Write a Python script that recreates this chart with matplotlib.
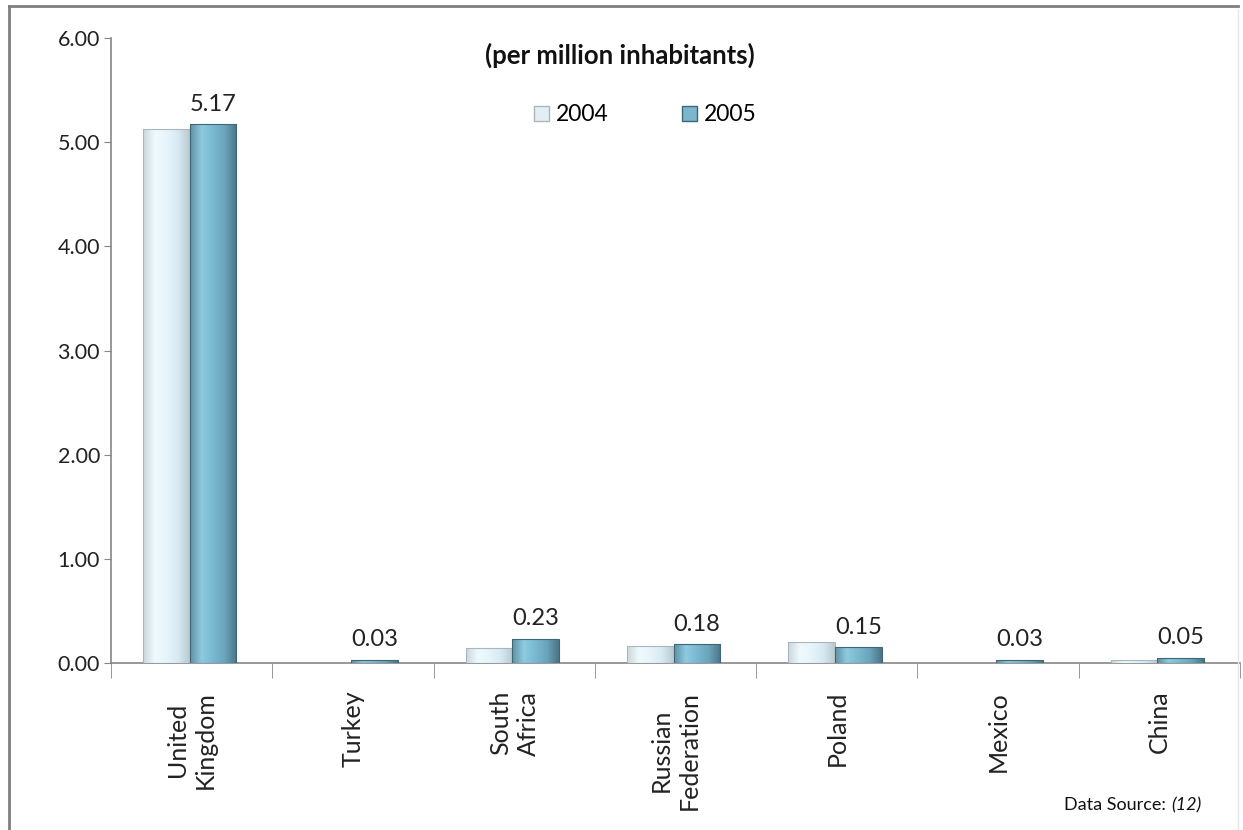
import numpy as np
import matplotlib
matplotlib.use("Agg")
import matplotlib.pyplot as plt
from matplotlib.patches import Rectangle, Patch
from matplotlib.colors import LinearSegmentedColormap
from matplotlib.lines import Line2D

plt.rcParams['font.family'] = ['Lato', 'DejaVu Sans']

countries = ["United\nKingdom", "Turkey", "South\nAfrica", "Russian\nFederation",
             "Poland", "Mexico", "China"]
years = ["2004", "2005"]
values_2004 = [5.13, 0.0, 0.14, 0.16, 0.20, 0.0, 0.03]
values_2005 = [5.17, 0.03, 0.23, 0.18, 0.15, 0.03, 0.05]

fig = plt.figure(figsize=(12.43, 8.30), dpi=100)
ax = fig.add_axes([0.0893, 0.2012, 0.9083, 0.7530])

x = np.arange(len(countries))
bw = 0.29

cmap_04 = LinearSegmentedColormap.from_list(
    "c04", ["#c9d6dc", "#eef9fd", "#e6f5fb", "#d6e9f1", "#b9c9d0"])
cmap_05 = LinearSegmentedColormap.from_list(
    "c05", ["#5f8fa3", "#8ccbe0", "#7ab8cf", "#6aa3ba", "#4b7485"])

bars04 = ax.bar(x - bw / 2 - 0.012, values_2004, bw, color="#e4f4fa", edgecolor="none", zorder=2)
bars05 = ax.bar(x + bw / 2 - 0.012, values_2005, bw, color="#7ab6cc", edgecolor="none", zorder=2)

grad = np.linspace(0, 1, 256).reshape(1, -1)
for bars, cmap, edge in ((bars04, cmap_04, "#a9b7bd"), (bars05, cmap_05, "#3f6675")):
    for r in bars:
        h = r.get_height()
        if h <= 0:
            continue
        x0, w = r.get_x(), r.get_width()
        im = ax.imshow(grad, cmap=cmap, aspect="auto", extent=(x0, x0 + w, 0, h),
                       zorder=3, interpolation="bicubic")
        im.set_clip_path(r)
        ax.add_patch(Rectangle((x0, 0), w, h, fill=False, edgecolor=edge,
                               linewidth=0.8, zorder=4))

for r, v in zip(bars05, values_2005):
    ax.annotate(f"{v:.2f}", (r.get_x() + r.get_width() / 2, v),
                xytext=(0, 7), textcoords="offset points", ha="center", va="bottom",
                fontsize=17, color="#222222", zorder=5)

ax.set_xlim(-0.5, len(countries) - 0.5)
ax.set_ylim(0, 6)
ax.set_yticks(np.arange(0, 7, 1))
ax.set_yticklabels([f"{v:.2f}" for v in np.arange(0, 7, 1)], fontsize=15.5, color="#222222")
ax.tick_params(axis="y", direction="out", length=5, color="#868686", pad=3)

ax.set_xticks(x)
ax.set_xticklabels(countries, rotation=90, fontsize=18, color="#222222",
                   multialignment="center", va="top", ha="center", linespacing=1.25)
ax.tick_params(axis="x", length=0, pad=20)
ax.set_xticks(np.arange(-0.5, len(countries), 1), minor=True)
ax.tick_params(axis="x", which="minor", direction="out", length=11, color="#868686")

for s in ("top", "right"):
    ax.spines[s].set_visible(False)
for s in ("left", "bottom"):
    ax.spines[s].set_color("#868686")
    ax.spines[s].set_linewidth(1.2)

ax.text(0.451, 0.973, "(per million inhabitants)", transform=ax.transAxes,
        ha="center", va="center", fontsize=18.5, fontweight="bold", color="#111111")

handles = [Patch(facecolor="#e2eef3", edgecolor="#a9b7bd"),
           Patch(facecolor="#7ab6cc", edgecolor="#3f6675")]
ax.legend(handles, years, loc="center", bbox_to_anchor=(0.473, 0.877), ncol=2,
          frameon=False, fontsize=16.5, handlelength=0.65, handleheight=0.65,
          handletextpad=0.3, columnspacing=3.2)

fig.text(0.942, 0.030, "Data Source: ", ha="right", va="center", fontsize=13, color="#111111")
fig.text(0.942, 0.030, "(12)", ha="left", va="center", fontsize=13, style="italic",
         color="#111111")

# chart frame
fig.add_artist(Line2D([0.007, 0.996], [0.9925, 0.9925], transform=fig.transFigure,
                      color="#7f7f7f", linewidth=2))
fig.add_artist(Line2D([0.0075, 0.0075], [0.0, 0.9925], transform=fig.transFigure,
                      color="#7f7f7f", linewidth=2))
fig.add_artist(Line2D([0.996, 0.996], [0.0, 0.988], transform=fig.transFigure,
                      color="#e6e6e6", linewidth=1))

fig.savefig("out.png", dpi=100, facecolor="white")
